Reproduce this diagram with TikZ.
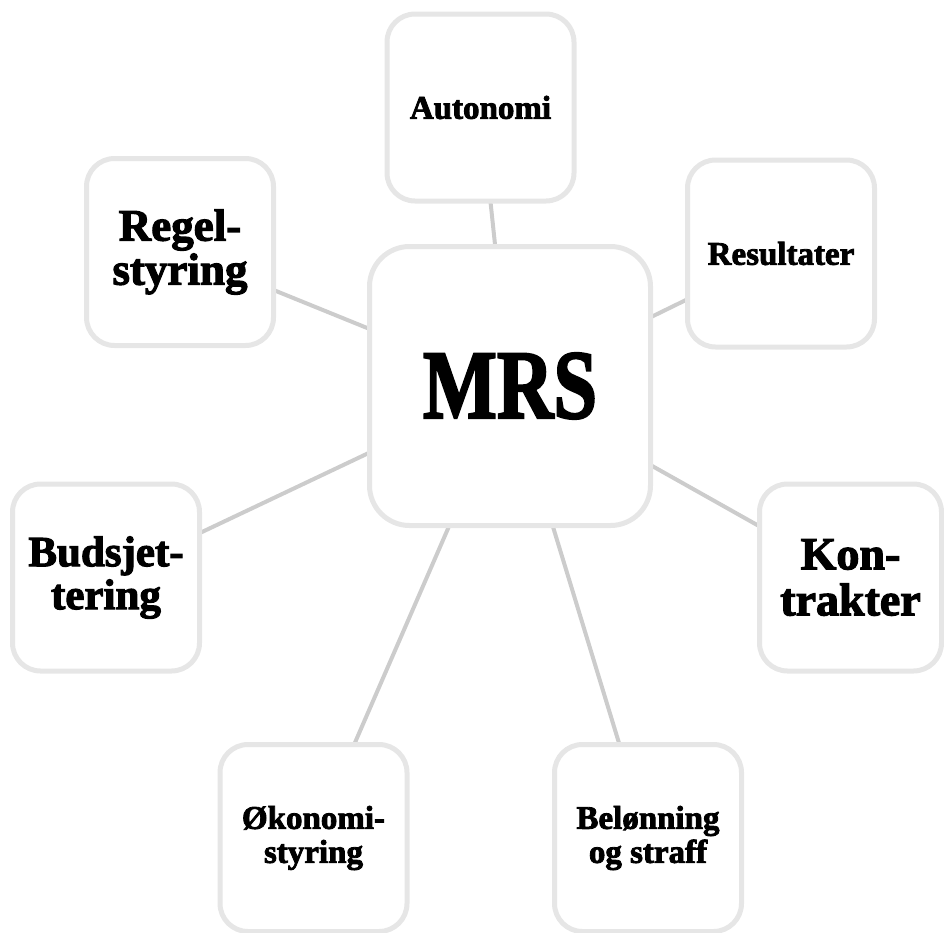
\documentclass[tikz,border=0pt]{standalone}
\usepackage{fontspec}
\usepackage{graphicx}
\setmainfont{Liberation Serif}[BoldFeatures={FakeBold=2.5}]
\definecolor{boxline}{HTML}{E6E6E6}
\definecolor{linkline}{HTML}{CCCCCC}
\pgfdeclarelayer{background}
\pgfsetlayers{background,main}
\tikzset{
  sat/.style={draw=boxline, line width=5pt, fill=white, rounded corners=28pt,
    minimum width=187pt, minimum height=187pt, inner sep=0pt, align=center,
    font=\bfseries},
  small/.style={font=\bfseries\fontsize{33}{34}\selectfont},
  link/.style={draw=linkline, line width=4pt}
}
\begin{document}
\begin{tikzpicture}[x=1pt, y=-1pt]
\useasboundingbox (0,0) rectangle (944,932);
\node[sat, minimum width=281pt, minimum height=279pt, rounded corners=40pt] (mrs) at (510,386)
  {\fontsize{98}{98}\selectfont\scalebox{0.8}[1]{MRS}};
\node[sat, small] (auto) at (480.5,107.5) {Autonomi};
\node[sat, small] (res) at (781,253.5) {Resultater};
\node[sat, minimum width=182pt, font=\bfseries\fontsize{46}{46}\selectfont] (kon) at (850.5,577.5) {Kon-\\trakter};
\node[sat, small] (bel) at (648,838) {Belønning\\og straff};
\node[sat, small] (oko) at (313.5,838) {Økonomi-\\styring};
\node[sat, font=\bfseries\fontsize{43}{43}\selectfont] (bud) at (106,577.5) {Budsjet-\\tering};
\node[sat, font=\bfseries\fontsize{45}{44}\selectfont] (reg) at (180,252) {Regel-\\styring};
\begin{pgfonlayer}{background}
\foreach \n in {auto,res,kon,bel,oko,bud,reg}
  \draw[link] (mrs.center) -- (\n.center);
\end{pgfonlayer}
\end{tikzpicture}
\end{document}
